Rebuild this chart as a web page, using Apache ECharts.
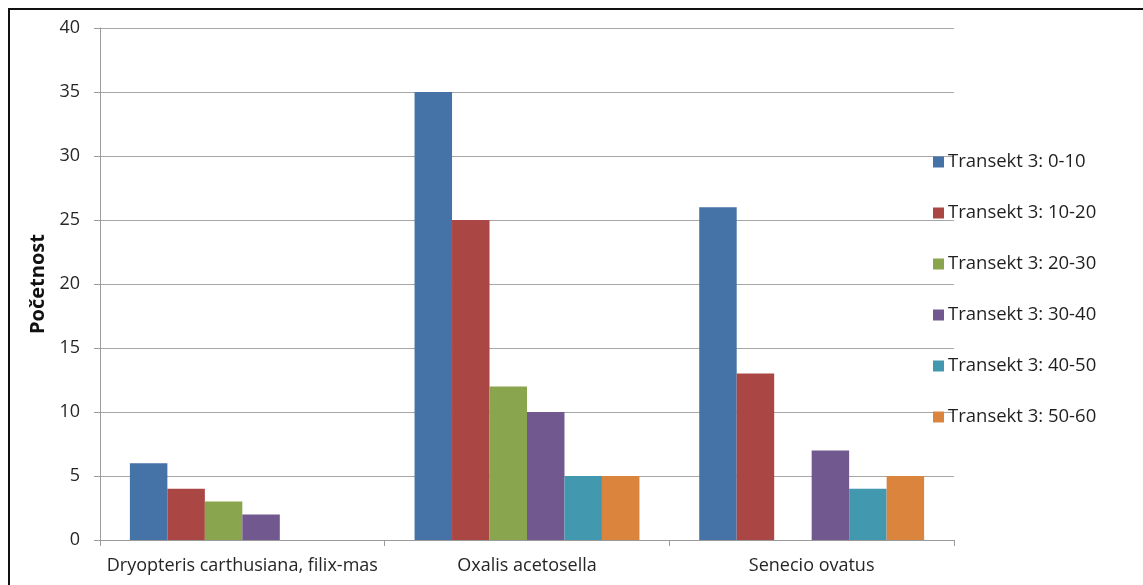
<!DOCTYPE html>
<html>
<head>
<meta charset="utf-8">
<script src="https://cdn.jsdelivr.net/npm/echarts@6/dist/echarts.min.js"></script>
<style>
  html, body { margin: 0; padding: 0; background: #ffffff; }
  #chart { width: 1143px; height: 585px; }
</style>
</head>
<body>
<div id="chart"></div>
<script>
// Species (categories on the x axis)
const categories = ['Dryopteris carthusiana, filix-mas', 'Oxalis acetosella', 'Senecio ovatus'];

// Counts per transect segment
const seg0_10  = [6, 35, 26];
const seg10_20 = [4, 25, 13];
const seg20_30 = [3, 12, null];
const seg30_40 = [2, 10, 7];
const seg40_50 = [null, 5, 4];
const seg50_60 = [null, 5, 5];

const seriesNames = ['Transekt 3: 0-10', 'Transekt 3: 10-20', 'Transekt 3: 20-30',
                     'Transekt 3: 30-40', 'Transekt 3: 40-50', 'Transekt 3: 50-60'];
const seriesData = [seg0_10, seg10_20, seg20_30, seg30_40, seg40_50, seg50_60];
const colors = ['#4572A7', '#AA4643', '#89A54E', '#71588F', '#4198AF', '#DB843D'];

const yTicks = [0, 5, 10, 15, 20, 25, 30, 35, 40];

const FONT = '"Open Sans", Lato, sans-serif';
const chart = echarts.init(document.getElementById('chart'), null, { renderer: 'canvas' });

chart.setOption({
  animation: false,
  color: colors,
  textStyle: { fontFamily: FONT },
  graphic: [{
    type: 'rect',
    shape: { x: 9, y: 9, width: 1140, height: 590 },
    style: { fill: 'none', stroke: '#111111', lineWidth: 2 },
    silent: true
  }],
  grid: { left: 100, right: 189, top: 28, bottom: 45, containLabel: false },
  legend: {
    orient: 'vertical',
    left: 928,
    top: 147,
    itemWidth: 11,
    itemHeight: 11,
    itemGap: 31,
    icon: 'rect',
    textStyle: { fontSize: 18.5, lineHeight: 20, color: '#1f1f1f', fontFamily: FONT, padding: [0, 0, 0, -1] },
    data: seriesNames
  },
  xAxis: {
    type: 'category',
    data: categories,
    axisLine: { lineStyle: { color: '#9a9a9a', width: 1 } },
    axisTick: { show: true, length: 6, alignWithLabel: false, lineStyle: { color: '#9a9a9a' } },
    axisLabel: { interval: 0, fontSize: 18, color: '#262626', margin: 17, fontFamily: FONT }
  },
  yAxis: {
    type: 'value',
    min: 0,
    max: yTicks[yTicks.length - 1],
    interval: yTicks[1] - yTicks[0],
    name: 'Početnost',
    nameLocation: 'middle',
    nameGap: 51,
    nameRotate: 90,
    nameTextStyle: { fontSize: 20, fontWeight: 'bold', color: '#111111', fontFamily: FONT },
    axisLine: { show: true, lineStyle: { color: '#9a9a9a', width: 1 } },
    axisTick: { show: true, length: 6, lineStyle: { color: '#9a9a9a' } },
    axisLabel: { fontSize: 18, color: '#262626', margin: 20, fontFamily: FONT },
    splitLine: { show: true, lineStyle: { color: '#a6a6a6', width: 1 } }
  },
  series: seriesNames.map((name, i) => ({
    name: name,
    type: 'bar',
    data: seriesData[i],
    barGap: '0%',
    barCategoryGap: '21%',
    itemStyle: { color: colors[i] }
  }))
});
</script>
</body>
</html>
